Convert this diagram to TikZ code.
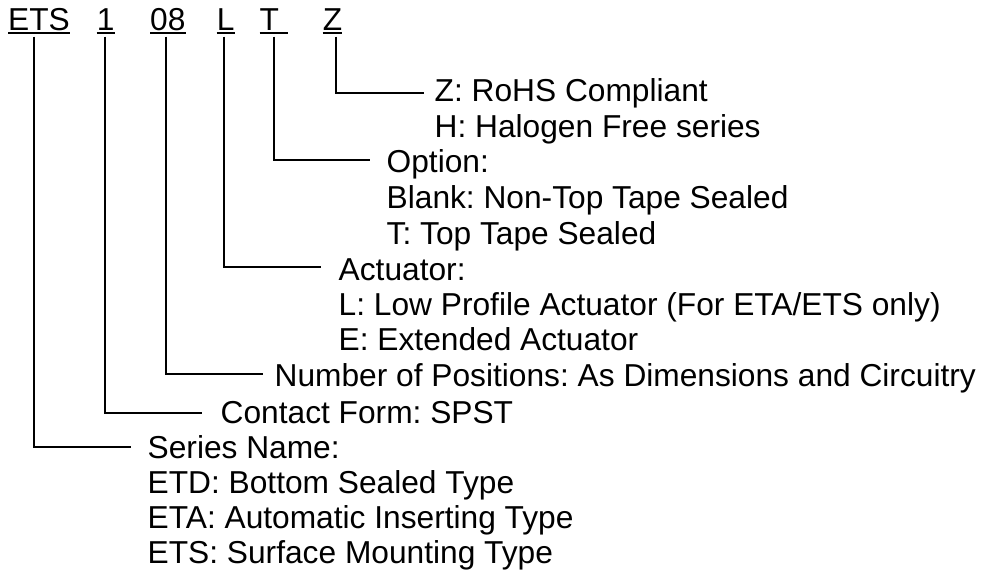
\documentclass[tikz,border=0pt]{standalone}
\usepackage{fontspec}
\setmainfont{Liberation Sans}
\frenchspacing
\begin{document}
\frenchspacing
\begin{tikzpicture}[x=1pt,y=-1pt,
  txt/.style={anchor=base west, inner sep=0pt, font=\fontsize{31.7}{35.5}\selectfont\frenchspacing},
  conn/.style={line width=1.7pt},
  uline/.style={line width=1.7pt}]
\useasboundingbox (0,0) rectangle (984,577);
% part-number codes
\node[txt] (ets) at (8,30.7) {ETS};
\node[txt] (c1)  at (96.7,30.7) {1};
\node[txt] (c08) at (150,30.7) {08};
\node[txt] (cL)  at (216.7,30.7) {L};
\node[txt] (cT)  at (259.5,30.7) {T};
\node[txt] (cZ)  at (322.7,30.7) {Z};
% underlines
\foreach \n in {ets,c1,c08,cL,cZ}{
  \draw[uline] ([yshift=-2.6pt]\n.base west) -- ([yshift=-2.6pt]\n.base east);
}
\draw[uline] ([yshift=-2.6pt]cT.base west) -- ([xshift=8.4pt,yshift=-2.6pt]cT.base east);
% descriptions
\node[txt] (z1) at (434.5,101.7) {Z: RoHS Compliant};
\node[txt] (z2) at (434.5,137.3) {H: Halogen Free series};
\node[txt] (t1) at (386.5,172.2) {Option:};
\node[txt] (t2) at (386.5,208.3) {Blank: Non-Top Tape Sealed};
\node[txt] (t3) at (386.5,244.5) {T: Top Tape Sealed};
\node[txt] (l1) at (338.5,280.3) {Actuator:};
\node[txt] (l2) at (338.5,315.2) {L: Low Profile Actuator (For ETA/ETS only)};
\node[txt] (l3) at (338.5,350.7) {E: Extended Actuator};
\node[txt] (n1) at (274.5,386.5) {Number of Positions: As Dimensions and Circuitry};
\node[txt] (k1) at (220.5,423.0) {Contact Form: SPST};
\node[txt] (s1) at (147.5,458.3) {Series Name:};
\node[txt] (s2) at (147.5,493.3) {ETD: Bottom Sealed Type};
\node[txt] (s3) at (147.5,528.3) {ETA: Automatic Inserting Type};
\node[txt] (s4) at (147.5,563.3) {ETS: Surface Mounting Type};
% connector corners
\coordinate (vE) at (34,36.7);
\coordinate (v1) at (105.3,36.7);
\coordinate (v08) at (166,36.7);
\coordinate (vL) at (224,36.7);
\coordinate (vT) at (274,36.7);
\coordinate (vZ) at (335.7,36.7);
\coordinate (hE) at (130.5,447.3);
\coordinate (h1) at (202,413);
\coordinate (h08) at (263,374);
\coordinate (hL) at (321,266.7);
\coordinate (hT) at (370,160);
\coordinate (hZ) at (424,93.3);
\draw[conn] (vE) |- (hE);
\draw[conn] (v1) |- (h1);
\draw[conn] (v08) |- (h08);
\draw[conn] (vL) |- (hL);
\draw[conn] (vT) |- (hT);
\draw[conn] (vZ) |- (hZ);
\end{tikzpicture}
\end{document}
